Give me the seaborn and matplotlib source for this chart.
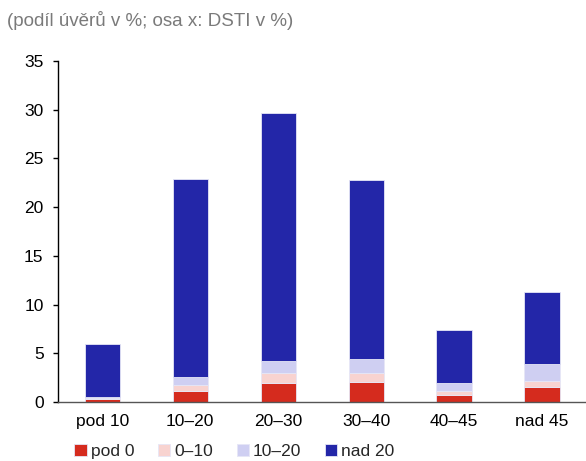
import numpy as np
import pandas as pd
import matplotlib
matplotlib.use("Agg")
import matplotlib.pyplot as plt
import seaborn as sns

# ----------------------------------
# Data (podíl úvěrů v %, by DSTI bucket)
# ----------------------------------
categories = ["pod 10", "10–20", "20–30", "30–40", "40–45", "nad 45"]
series_names = ["pod 0", "0–10", "10–20", "nad 20"]
pod_0 = [0.3, 1.1, 1.9, 2.05, 0.75, 1.55]
od_0_10 = [0.1, 0.6, 1.05, 0.9, 0.4, 0.65]
od_10_20 = [0.15, 0.85, 1.25, 1.5, 0.75, 1.7]
nad_20 = [5.45, 20.35, 25.4, 18.35, 5.5, 7.35]

colors = ["#d52b1e", "#f8d3d0", "#cfcff2", "#2326a8"]

df = pd.DataFrame({
    "DSTI": categories,
    "pod 0": pod_0,
    "0–10": od_0_10,
    "10–20": od_10_20,
    "nad 20": nad_20,
})

# ----------------------------------
# Plot
# ----------------------------------
sns.set_style("white")
plt.rcParams["font.family"] = ["Liberation Sans", "DejaVu Sans"]
plt.rcParams["font.size"] = 12.5

fig = plt.figure(figsize=(5.86, 4.61), dpi=100)
ax = fig.add_axes([0.0995, 0.128, 0.9005, 0.74])

bottom = np.zeros(len(categories))
for name, col in zip(series_names, colors):
    sns.barplot(
        data=df, x="DSTI", y=name, color=col, bottom=bottom,
        width=0.4, edgecolor="#e6e6f6", linewidth=0.6,
        label=name, ax=ax, saturation=1,
    )
    bottom = bottom + df[name].values

ax.set_ylim(0, 35)
ax.set_xlim(-0.5, len(categories) - 0.5)
ax.set_yticks(range(0, 36, 5))
ax.set_xlabel("")
ax.set_ylabel("")

sns.despine(ax=ax, top=True, right=True)
ax.spines["left"].set_color("black")
ax.spines["left"].set_linewidth(1.0)
ax.spines["bottom"].set_color("#555555")
ax.spines["bottom"].set_linewidth(1.0)

ax.tick_params(axis="y", left=True, length=3.6, width=1, color="black",
               pad=7, labelsize=12.5, labelcolor="black")
ax.tick_params(axis="x", bottom=False, length=0, pad=9,
               labelsize=12.5, labelcolor="black")

if ax.get_legend():
    ax.get_legend().remove()
handles, labels = ax.get_legend_handles_labels()
fig.legend(
    handles, labels, loc="center left", bbox_to_anchor=(0.127, 0.02),
    ncol=4, frameon=False, handlelength=0.7, handleheight=0.7,
    handletextpad=0.25, columnspacing=1.35, fontsize=12.5,
    borderaxespad=0, borderpad=0,
)

fig.text(0.012, 0.955, "(podíl úvěrů v %; osa x: DSTI v %)",
         color="#7a7a7a", fontsize=13.5, va="center", ha="left")

fig.savefig("out.png", dpi=100)
